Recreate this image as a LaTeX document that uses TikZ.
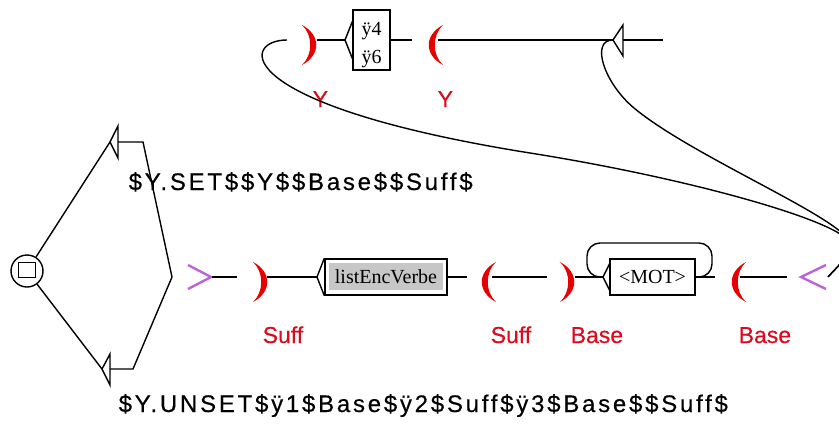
\documentclass[tikz,border=0pt]{standalone}
\usepackage{fontspec}
\setmainfont{Liberation Serif}
\newfontfamily\outfont[LetterSpace=11.5,FakeBold=0.4]{Liberation Sans}
\newfontfamily\labfont[FakeBold=0.3]{Liberation Sans}
\definecolor{parred}{RGB}{230,0,0}
\definecolor{labred}{RGB}{220,10,30}
\definecolor{purp}{RGB}{185,100,215}
\begin{document}
\begin{tikzpicture}[x=1pt,y=-1pt,line width=1.4pt,
  rpar/.pic={\fill[parred] (-7,-20) .. controls (12,-10) and (12,10) .. (-7,20) .. controls (4,10) and (4,-10) .. (-7,-20) -- cycle;},
  lpar/.pic={\fill[parred] (7,-20) .. controls (-12,-10) and (-12,10) .. (7,20) .. controls (-4,10) and (-4,-10) .. (7,-20) -- cycle;},
  outtext/.style={anchor=base west,inner sep=0,font=\outfont\fontsize{24}{24}\selectfont},
  grouplabel/.style={anchor=base west,inner sep=0,text=labred,font=\labfont\fontsize{23}{23}\selectfont},
  boxtext/.style={inner sep=0,font=\fontsize{20}{20}\selectfont},
  chev/.style={draw=purp,line width=2.4pt}]
\path[use as bounding box] (0,0) rectangle (839,429);
\clip (0,0) rectangle (839,429);
\fill[white] (0,0) rectangle (839,429);

% initial state
\node[draw,circle,minimum size=32pt,inner sep=0] (init) at (27,271) {};
\node[draw,minimum width=17pt,minimum height=15pt,inner sep=0] (initsq) at (27,270) {};

% two empty boxes with outputs
\coordinate (e1tip) at (110,142);
\coordinate (e1out) at (118,142);
\coordinate (e1bend) at (143,142);
\coordinate (e2tip) at (102,369);
\coordinate (e2out) at (110,369);
\coordinate (e2bend) at (133,369);
\coordinate (gtin) at (172,277);
\draw (e1tip) -- (118,126) -- (118,158) -- cycle;
\draw (e2tip) -- (110,354) -- (110,385) -- cycle;
\draw (init) -- (e1tip);
\draw (init) -- (e2tip);
\draw (e1out) -- (e1bend) -- (gtin);
\draw (e2out) -- (e2bend) -- (gtin);
\node[outtext] (out1) at (128,190) {\$Y.SET\$\$Y\$\$Base\$\$Suff\$};
\node[outtext] (out2) at (118,412) {\$Y.UNSET\$ÿ1\$Base\$ÿ2\$Suff\$ÿ3\$Base\$\$Suff\$};

% main row
\draw[chev] (188,265) -- (211,277) -- (188,289);
\coordinate (gtout) at (212,277);
\coordinate (p1in) at (237,277);
\draw (gtout) -- (p1in);
\pic (p1) at (260,282) {rpar};
\node[grouplabel] (l1) at (262,343) {Suff};
\coordinate (p1out) at (267,277);
\coordinate (levtip) at (317,277);
\draw (p1out) -- (levtip);
\node[draw,fill=white,minimum width=122pt,minimum height=36pt,inner sep=0] (lev) at (386,277) {};
\node[fill=black!22,minimum width=114pt,minimum height=27pt,inner sep=0] (levbg) at (386,276.5) {};
\node[boxtext] (levtxt) at (386,277) {listEncVerbe};
\draw (lev.north west) -- (levtip) -- (lev.south west);
\coordinate (p2in) at (467,277);
\draw (lev.east) -- (p2in);
\pic (p2) at (489,282) {lpar};
\node[grouplabel] (l2) at (490,343) {Suff};
\coordinate (p2out) at (492,277);
\coordinate (p3in) at (547,277);
\draw (p2out) -- (p3in);
\pic (p3) at (567,282) {rpar};
\node[grouplabel] (l3) at (570,343) {Base};
\coordinate (p3out) at (575,277);
\coordinate (mottip) at (603,277);
\draw (p3out) -- (mottip);
\node[draw,minimum width=85pt,minimum height=36pt,inner sep=0] (mot) at (652.5,277) {};
\node[boxtext] (mottxt) at (652.5,277) {<MOT>};
\draw (610,263) -- (mottip) -- (610,291);
\draw[rounded corners=13pt] (mot.east) -- (712,277) -- (712,243) -- (587,243) -- (587,277) -- (mottip);
\coordinate (p4in) at (715,277);
\draw (mot.east) -- (p4in);
\pic (p4) at (739,282) {lpar};
\node[grouplabel] (l4) at (738,343) {Base};
\coordinate (p4out) at (740,277);
\coordinate (ltin) at (787,277);
\draw (p4out) -- (ltin);
\draw[chev] (826,265) -- (801,277) -- (826,289);
\coordinate (ltout) at (828,277);

% top row
\coordinate (ypin) at (287,40);
\pic (p5) at (309,45) {rpar};
\node[grouplabel] (l5) at (312,107) {Y};
\coordinate (p5out) at (317,40);
\coordinate (ybtip) at (345,40);
\draw (p5out) -- (ybtip);
\node[draw,minimum width=37pt,minimum height=60pt,inner sep=0] (ybox) at (371.5,40) {};
\node[boxtext,anchor=base] (y4) at (371.5,35) {ÿ4};
\node[boxtext,anchor=base] (y6) at (371.5,63) {ÿ6};
\draw (353,20) -- (ybtip) -- (353,60);
\coordinate (p6in) at (412,40);
\draw (ybox.east) -- (p6in);
\pic (p6) at (436,45) {lpar};
\node[grouplabel] (l6) at (437,107) {Y};
\coordinate (p6out) at (438,40);
\coordinate (etip) at (613,40);
\coordinate (eright) at (623,40);
\coordinate (eend) at (663,40);
\draw (p6out) -- (etip);
\draw (etip) -- (623,25) -- (623,56) -- cycle;
\draw (eright) -- (eend);

% back transitions
\coordinate (J) at (850,245);
\coordinate (M) at (530,153);
\coordinate (N) at (634,108);
\draw (ltout) .. controls (836,268) and (848,258) .. (J)
  .. controls (852,225) and (700,180) .. (M)
  .. controls (230,105) and (240,40) .. (ypin);
\draw (ltout) .. controls (836,268) and (848,258) .. (J)
  .. controls (852,222) and (694,158) .. (N)
  .. controls (604,83) and (590,40) .. (etip);
\end{tikzpicture}
\end{document}
